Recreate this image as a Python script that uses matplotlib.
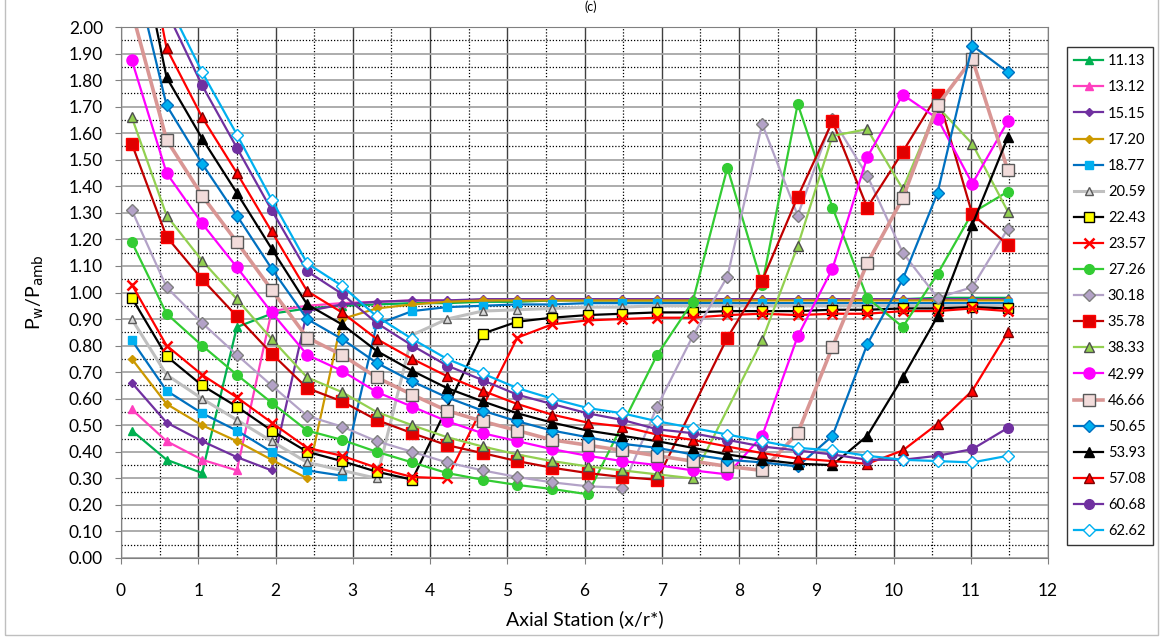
import numpy as np
import matplotlib
matplotlib.use("Agg")
import matplotlib.pyplot as plt
from matplotlib.patches import Rectangle

plt.rcParams["font.family"] = ["Lato", "DejaVu Sans"]

nan = np.nan

# axial stations (x/r*)
x_station = [0.14, 0.59, 1.05, 1.50, 1.95, 2.41, 2.86, 3.31, 3.77, 4.22, 4.68, 5.13, 5.58,
             6.04, 6.49, 6.94, 7.40, 7.85, 8.30, 8.76, 9.21, 9.66, 10.12, 10.57, 11.02, 11.48]

labels = ["11.13", "13.12", "15.15", "17.20", "18.77", "20.59", "22.43", "23.57", "27.26", "30.18",
          "35.78", "38.33", "42.99", "46.66", "50.65", "53.93", "57.08", "60.68", "62.62"]

p_1113 = [0.48, 0.37, 0.32, 0.87, 0.92, 0.94, 0.95, 0.955, 0.96, 0.96, 0.965, 0.965, 0.97,
          0.97, 0.97, 0.97, 0.97, 0.97, 0.975, 0.975, 0.975, 0.975, 0.975, 0.98, 0.98, 0.98]
p_1312 = [0.56, 0.44, 0.37, 0.33, 0.93, 0.95, 0.96, 0.965, 0.97, 0.97, 0.97, 0.975, 0.975,
          0.975, 0.975, 0.975, 0.975, 0.975, 0.975, 0.975, 0.975, 0.975, 0.975, 0.975, 0.975, 0.975]
p_1515 = [0.66, 0.51, 0.44, 0.38, 0.33, 0.93, 0.955, 0.965, 0.97, 0.97, 0.975, 0.975, 0.975,
          0.975, 0.975, 0.975, 0.975, 0.975, 0.975, 0.975, 0.975, 0.975, 0.975, 0.975, 0.975, 0.975]
p_1720 = [0.75, 0.58, 0.50, 0.44, 0.37, 0.30, 0.90, 0.94, 0.955, 0.965, 0.97, 0.97, 0.97,
          0.97, 0.97, 0.97, 0.97, 0.97, 0.97, 0.97, 0.97, 0.97, 0.97, 0.97, 0.97, 0.97]
p_1877 = [0.82, 0.63, 0.545, 0.48, 0.40, 0.33, 0.31, 0.88, 0.93, 0.945, 0.95, 0.955, 0.955,
          0.96, 0.96, 0.96, 0.96, 0.96, 0.96, 0.96, 0.96, 0.96, 0.96, 0.96, 0.96, 0.96]
p_2059 = [0.90, 0.69, 0.60, 0.52, 0.44, 0.36, 0.33, 0.30, 0.84, 0.90, 0.93, 0.935, 0.94,
          0.945, 0.945, 0.95, 0.95, 0.95, 0.95, 0.95, 0.95, 0.95, 0.95, 0.95, 0.95, 0.95]
p_2243 = [0.98, 0.76, 0.65, 0.57, 0.48, 0.40, 0.365, 0.325, 0.295, nan, 0.845, 0.89, 0.905,
          0.915, 0.92, 0.925, 0.925, 0.93, 0.93, 0.93, 0.935, 0.935, 0.94, 0.94, 0.945, 0.94]
p_2357 = [1.03, 0.80, 0.69, 0.605, 0.51, 0.415, 0.385, 0.34, 0.305, 0.30, nan, 0.83, 0.88,
          0.895, 0.90, 0.905, 0.905, 0.915, 0.92, 0.915, 0.92, 0.92, 0.93, 0.93, 0.94, 0.93]
p_2726 = [1.19, 0.92, 0.80, 0.69, 0.585, 0.48, 0.445, 0.40, 0.36, 0.32, 0.295, 0.275, 0.26,
          0.24, nan, 0.765, 0.965, 1.47, 1.03, 1.71, 1.32, 0.98, 0.87, 1.07, 1.30, 1.38]
p_3018 = [1.31, 1.02, 0.885, 0.765, 0.65, 0.535, 0.495, 0.44, 0.40, 0.36, 0.33, 0.305, 0.285,
          0.27, 0.265, 0.57, 0.835, 1.06, 1.635, 1.29, 1.655, 1.44, 1.15, 0.98, 1.02, 1.24]
p_3578 = [1.56, 1.21, 1.05, 0.91, 0.77, 0.64, 0.59, 0.52, 0.47, 0.425, 0.395, 0.365, 0.34,
          0.32, 0.305, 0.295, nan, 0.83, 1.045, 1.36, 1.645, 1.32, 1.53, 1.745, 1.295, 1.18]
p_3833 = [1.66, 1.29, 1.12, 0.975, 0.825, 0.68, 0.625, 0.55, 0.50, 0.455, 0.42, 0.39, 0.365,
          0.345, 0.33, 0.315, 0.30, nan, 0.82, 1.175, 1.59, 1.615, 1.39, 1.70, 1.56, 1.305]
p_4299 = [1.875, 1.45, 1.26, 1.095, 0.925, 0.765, 0.705, 0.625, 0.57, 0.515, 0.47, 0.44, 0.41,
          0.385, 0.365, 0.35, 0.33, 0.315, 0.46, 0.835, 1.09, 1.51, 1.745, 1.655, 1.41, 1.645]
p_4666 = [2.06, 1.575, 1.365, 1.19, 1.01, 0.83, 0.765, 0.68, 0.615, 0.555, 0.515, 0.48, 0.445,
          0.425, 0.405, 0.385, 0.365, 0.345, 0.33, 0.47, 0.795, 1.11, 1.355, 1.705, 1.88, 1.46]
p_5065 = [2.25, 1.705, 1.485, 1.29, 1.09, 0.90, 0.825, 0.735, 0.665, 0.605, 0.555, 0.515, 0.48,
          0.455, 0.43, 0.415, 0.39, 0.37, 0.36, 0.345, 0.46, 0.805, 1.05, 1.375, 1.93, 1.83]
p_5393 = [2.45, 1.81, 1.58, 1.375, 1.165, 0.955, 0.88, 0.78, 0.705, 0.64, 0.59, 0.545, 0.51,
          0.48, 0.46, 0.44, 0.415, 0.39, 0.37, 0.355, 0.35, 0.46, 0.68, 0.91, 1.255, 1.585]
p_5708 = [2.60, 1.92, 1.66, 1.45, 1.23, 1.005, 0.925, 0.825, 0.75, 0.685, 0.63, 0.58, 0.54,
          0.51, 0.495, 0.465, 0.445, 0.42, 0.395, 0.375, 0.365, 0.355, 0.405, 0.505, 0.63, 0.85]
p_6068 = [2.50, 2.06, 1.78, 1.545, 1.31, 1.08, 0.995, 0.885, 0.80, 0.725, 0.67, 0.615, 0.58,
          0.545, 0.52, 0.485, 0.47, 0.445, 0.42, 0.405, 0.39, 0.37, 0.37, 0.385, 0.41, 0.49]
p_6262 = [2.55, 2.10, 1.83, 1.595, 1.35, 1.11, 1.025, 0.91, 0.825, 0.75, 0.695, 0.64, 0.60,
          0.565, 0.545, 0.515, 0.49, 0.465, 0.44, 0.415, 0.405, 0.385, 0.37, 0.365, 0.36, 0.385]

series = [p_1113, p_1312, p_1515, p_1720, p_1877, p_2059, p_2243, p_2357, p_2726, p_3018,
          p_3578, p_3833, p_4299, p_4666, p_5065, p_5393, p_5708, p_6068, p_6262]

# (line colour, marker, face, edge, marker size, line width)
styles = [
    ("#00B050", "^", "#00B050", "#00B050", 6, 1.6),
    ("#FF3FBF", "^", "#FF3FBF", "#FF3FBF", 6, 1.6),
    ("#7030A0", "D", "#7030A0", "#7030A0", 4, 1.6),
    ("#CC9900", "D", "#CC9900", "#CC9900", 4, 1.6),
    ("#0070C0", "s", "#00B0F0", "#00B0F0", 6, 1.6),
    ("#BFBFBF", "^", "#D9D9D9", "#595959", 6, 2.2),
    ("#000000", "s", "#FFFF00", "#000000", 7, 1.6),
    ("#FF0000", "x", "#FF0000", "#FF0000", 7, 1.6),
    ("#33CC33", "o", "#33CC33", "#33CC33", 7, 1.6),
    ("#B3A2C7", "D", "#B3A2C7", "#7F7F7F", 6, 1.6),
    ("#C00000", "s", "#E00000", "#FF0000", 8, 1.6),
    ("#92D050", "^", "#92D050", "#4F4F4F", 7, 1.6),
    ("#FF00FF", "o", "#FF00FF", "#FF00FF", 8, 1.6),
    ("#D99694", "s", "#F2DCDB", "#595959", 8, 2.6),
    ("#0070C0", "D", "#00B0F0", "#0070C0", 6, 1.6),
    ("#000000", "^", "#000000", "#000000", 7, 1.6),
    ("#FF0000", "^", "#FF0000", "#7F0000", 7, 1.6),
    ("#7030A0", "o", "#7030A0", "#7030A0", 7, 1.6),
    ("#00B0F0", "D", "#FFFFFF", "#00B0F0", 6, 1.6),
]

fig = plt.figure(figsize=(11.63, 6.39), dpi=100)
ax = fig.add_axes([121 / 1163, 81 / 639, 927 / 1163, 531 / 639])

xs = np.array(x_station)
for lab, vals, st in zip(labels, series, styles):
    y = np.array(vals, dtype=float)
    ok = ~np.isnan(y)
    col, mk, fc, ec, ms, lw = st
    ax.plot(xs[ok], y[ok], color=col, lw=lw, marker=mk, markersize=ms,
            markerfacecolor=fc, markeredgecolor=ec, markeredgewidth=1.0 if mk != "x" else 1.8,
            label=lab)

ax.set_xlim(0, 12)
ax.set_ylim(0, 2)
ax.set_xticks(np.arange(0, 13, 1))
ax.set_xticks(np.arange(0.5, 12, 1), minor=True)
ax.set_yticks(np.arange(0, 2.001, 0.1))
ax.set_yticks(np.arange(0.05, 2.0, 0.1), minor=True)
ax.set_yticklabels([f"{v:.2f}" for v in np.arange(0, 2.001, 0.1)])
ax.grid(which="major", axis="x", color="#404040", lw=1.0, ls="-")
ax.grid(which="minor", axis="x", color="#000000", lw=0.9, ls=(0, (1, 1.5)))
ax.grid(which="major", axis="y", color="#A6A6A6", lw=1.3, ls="-")
ax.grid(which="minor", axis="y", color="#000000", lw=0.9, ls=(0, (1, 1.5)))
ax.set_axisbelow(True)
ax.tick_params(which="major", labelsize=12.5, length=4, color="#808080")
ax.tick_params(axis="x", which="major", pad=14)
ax.tick_params(axis="y", which="major", pad=9)
ax.tick_params(which="minor", length=0)
for s in ax.spines.values():
    s.set_color("#808080")

ax.set_xlabel("Axial Station (x/r*)", fontsize=14, labelpad=8)
ax.set_ylabel(r"P$_\mathrm{w}$/P$_\mathrm{amb}$", fontsize=14, labelpad=16)

leg = fig.legend(loc="upper left", bbox_to_anchor=(1067 / 1163, 1 - 47 / 639), fontsize=10.5,
                 frameon=True, fancybox=False, edgecolor="#000000", labelspacing=0.83,
                 handlelength=2.0, borderpad=0.5, handletextpad=0.3, borderaxespad=0)
leg.get_frame().set_linewidth(1.0)

fig.text(0.508, 0.999, "(c)", ha="center", va="top", fontsize=9)
fig.add_artist(Rectangle((0.004, 0.006), 0.992, 1.2, transform=fig.transFigure,
                         fill=False, edgecolor="#BFBFBF", lw=1.0))

fig.savefig("out.png", dpi=100)
